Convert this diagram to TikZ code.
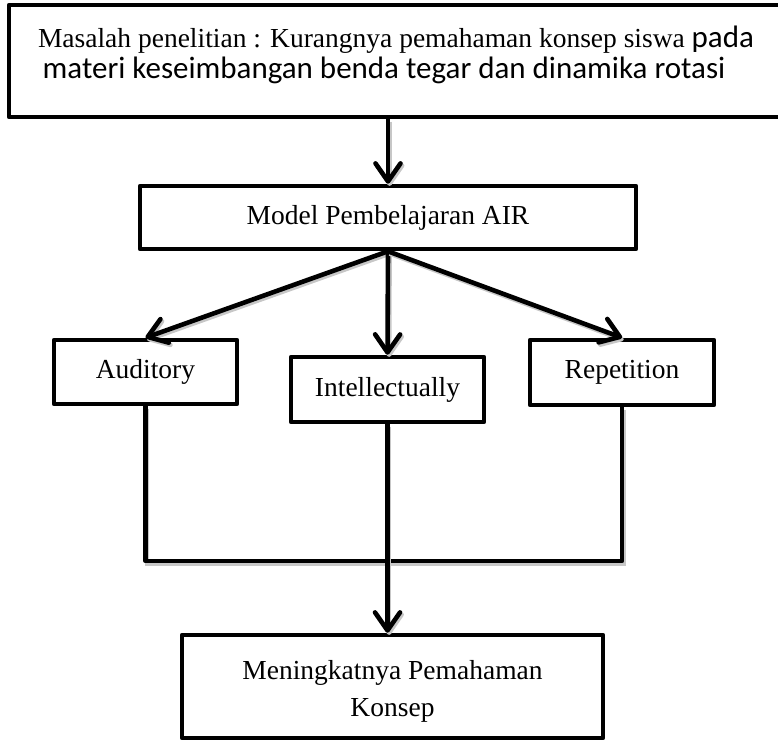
\documentclass[tikz,border=0pt]{standalone}
\usepackage{fontspec}
\setmainfont{Liberation Serif}
\newfontfamily\calibrifont{Carlito}
\usetikzlibrary{arrows.meta}
\begin{document}
\begin{tikzpicture}[x=1pt,y=-1pt,
  box/.style={draw=black, line width=4.6pt, line join=round, fill=white, inner sep=0pt},
  txt/.style={font=\fontsize{27.5}{37}\selectfont, inner sep=0pt},
  sanstxt/.style={font=\calibrifont\fontsize{31}{36}\selectfont, inner sep=0pt},
  conn/.style={line width=4.6pt, line cap=round, line join=round,
    preaction={draw=black!22, line width=4.6pt, transform canvas={shift={(1.6pt,-2.2pt)}}}},
  arr/.style={conn, -{Straight Barb[length=18pt,width=25pt,round]}},
]
\useasboundingbox (0,0) rectangle (778,740);
\coordinate (join) at (388,561);
% boxes
\node[box, minimum width=775pt, minimum height=112pt] (problem) at (396.5,61) {};
\node[txt, anchor=base] (problemA) at (396,47) {Masalah penelitian : Kurangnya pemahaman konsep siswa {\calibrifont\fontsize{31}{36}\selectfont pada}};
\node[sanstxt, anchor=base] (problemB) at (384,78) {materi keseimbangan benda tegar dan dinamika rotasi};
\node[box, txt, minimum width=496pt, minimum height=63pt] (model) at (388,217.5) {Model Pembelajaran AIR};
\node[box, txt, minimum width=183pt, minimum height=64pt] (aud) at (145.5,372) {Auditory};
\node[box, txt, minimum width=193pt, minimum height=65pt] (intel) at (387.5,389.5) {Intellectually};
\node[box, txt, minimum width=184pt, minimum height=65pt] (rep) at (622,372.5) {Repetition};
\node[box, minimum width=421pt, minimum height=103pt] (result) at (392.5,686.5) {};
\node[txt, align=center] (resultText) at (392.5,691) {Meningkatnya Pemahaman\\Konsep};
% connectors
\draw[arr] (problem.south -| model.north) -- (model.north);
\draw[arr] (model.south) -- (aud.north);
\draw[arr] (model.south) -- (intel.north);
\draw[arr] (model.south) -- (rep.north);
\draw[conn] (aud.south) -- (aud.south |- join) -- (rep.south |- join) -- (rep.south);
\draw[arr] (intel.south) -- (intel.south |- result.north);
\end{tikzpicture}
\end{document}
